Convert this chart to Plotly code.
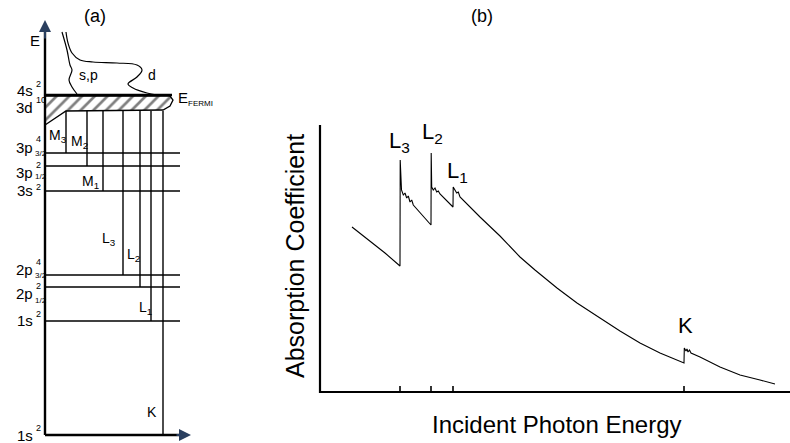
import plotly.graph_objects as go

FONT = "Liberation Sans, Arial, Helvetica, sans-serif"

# ---------------- (a) energy-level scheme (arbitrary units) ----------------
level_E = [11.4, 14.8, 16.0, 24.4, 26.9, 28.2]
level_xend = 13.5

# level labels: main text, superscript, subscript and their heights
lab_main = ["4s", "3d", "3p", "3p", "3s", "2p", "2p", "1s", "1s"]
lab_sup = ["2", "10", "4", "2", "2", "4", "2", "2", "2"]
lab_sub = ["", "", "3/2", "1/2", "", "3/2", "1/2", "", ""]
lab_main_E = [34.5, 32.8, 28.8, 26.3, 24.5, 16.6, 14.2, 11.5, 0.0]
lab_sup_E = [35.1, 33.5, 29.6, 27.05, 24.85, 17.3, 14.9, 12.1, 0.7]
lab_sub_E = [0, 0, 28.15, 25.9, 0, 15.95, 13.5, 0, 0]

ground_E = 0.0          # bottom 1s level (K shell)
fermi_E = 34.0          # E_FERMI / 4s^2
band_bottom_E = 32.4    # bottom of filled 3d band
axis_top_E = 41.5

# filled 3d band outline
band_x = [0.0, 12.5, 12.8, 12.5, 11.8, 2.1, 0.0, 0.0]
band_E = [33.9, 33.9, 33.5, 32.9, 32.5, 32.4, 31.0, 33.9]

# absorption edges: name, horizontal position, initial level energy
trans_names = ["M<sub>3</sub>", "M<sub>2</sub>", "M<sub>1</sub>", "L<sub>3</sub>",
               "L<sub>2</sub>", "L<sub>1</sub>", "K"]
trans_x = [2.1, 4.2, 5.8, 7.8, 9.5, 10.6, 11.8]
trans_from = [28.2, 26.9, 24.4, 16.0, 14.8, 11.4, 0.0]
trans_label_x = [0.2, 2.4, 3.5, 5.5, 8.0, 9.2, 10.0]
trans_label_E = [29.9, 29.3, 25.3, 19.6, 18.0, 12.7, 2.3]

# density of states curves above the Fermi level
sp_x = [1.7, 2.2, 2.5, 2.7, 2.4, 2.7, 3.2]
sp_E = [40.3, 38.5, 37.0, 36.5, 35.5, 34.8, 34.1]
d_x = [2.1, 2.3, 2.7, 3.5, 4.8, 7.2, 9.2, 9.7, 9.2, 8.3, 8.8, 10.2, 11.2]
d_E = [40.3, 39.2, 38.2, 37.5, 37.3, 37.2, 37.0, 36.5, 35.8, 35.1, 34.7, 34.2, 34.0]

# ---------------- (b) absorption spectrum (arbitrary units) ----------------
energy = [3.2, 5.0, 6.5, 8.0, 8.02, 8.15, 8.33, 8.5, 8.67, 8.83, 9.0, 9.17, 9.33,
          11.1, 11.12, 11.17, 11.33, 11.5, 11.67, 11.83, 12.0, 13.3, 13.32, 13.5,
          13.67, 13.83, 14.0, 16.0, 18.0, 20.0, 21.5, 23.7, 25.7, 28.0, 30.0, 32.0,
          34.0, 36.4, 36.43, 36.6, 36.7, 36.8, 36.95, 37.1, 38.0, 40.0, 42.0, 44.0, 45.5]
absorption = [16.5, 15.1, 13.9, 12.6, 23.2, 20.2, 19.7, 19.9, 19.4, 19.6, 19.0, 19.2, 18.7,
              16.7, 23.9, 20.5, 20.2, 20.4, 20.0, 20.1, 19.8, 18.5, 20.5, 20.2,
              19.9, 20.0, 19.5, 17.5, 15.6, 13.5, 12.2, 10.4, 8.9, 7.4, 6.1, 4.9,
              3.9, 2.9, 4.4, 4.1, 4.3, 4.0, 4.2, 3.9, 3.5, 2.5, 1.7, 1.2, 0.8]
edge_names = ["L<sub>3</sub>", "L<sub>2</sub>", "L<sub>1</sub>", "K"]
edge_energy = [8.0, 11.1, 13.3, 36.4]
edge_label_mu = [25.0, 25.9, 22.0, 6.7]
edge_label_dx = [-0.1, 0.15, 0.45, 0.15]
x_axis_end = 47.0
y_axis_top = 26.7

fig = go.Figure()

# ---- panel (a) ----
# filled band with hatching
fig.add_trace(go.Scatter(x=band_x, y=band_E, mode="lines", fill="toself",
                         fillcolor="white",
                         fillpattern=dict(shape="/", fgcolor="black", bgcolor="white",
                                          size=9, solidity=0.3),
                         line=dict(color="black", width=1.3), hoverinfo="skip",
                         xaxis="x", yaxis="y"))
# Fermi level
fig.add_trace(go.Scatter(x=[0, 12.7], y=[fermi_E, fermi_E], mode="lines",
                         line=dict(color="black", width=2.4), xaxis="x", yaxis="y"))
# core levels
for E in level_E:
    fig.add_trace(go.Scatter(x=[0, level_xend], y=[E, E], mode="lines",
                             line=dict(color="black", width=1.6), xaxis="x", yaxis="y"))
# transitions
for x, E in zip(trans_x, trans_from):
    fig.add_trace(go.Scatter(x=[x, x], y=[E, band_bottom_E], mode="lines",
                             line=dict(color="black", width=1.4), xaxis="x", yaxis="y"))
# density of states
fig.add_trace(go.Scatter(x=sp_x, y=sp_E, mode="lines", line=dict(color="black", width=1.2,
                         shape="spline"), xaxis="x", yaxis="y"))
fig.add_trace(go.Scatter(x=d_x, y=d_E, mode="lines", line=dict(color="black", width=1.2,
                         shape="spline"), xaxis="x", yaxis="y"))
# energy axis and bottom axis
fig.add_trace(go.Scatter(x=[0, 0], y=[ground_E, axis_top_E - 1], mode="lines",
                         line=dict(color="black", width=2.4), xaxis="x", yaxis="y"))
fig.add_trace(go.Scatter(x=[0, 13.5], y=[ground_E, ground_E], mode="lines",
                         line=dict(color="black", width=2.4), xaxis="x", yaxis="y"))

ann = []
# axis arrowheads
ann.append(dict(x=0, y=axis_top_E, ax=0, ay=axis_top_E - 2, xref="x", yref="y",
                axref="x", ayref="y", showarrow=True, arrowhead=2, arrowsize=1.2,
                arrowwidth=2, text=""))
ann.append(dict(x=14.6, y=ground_E, ax=13, ay=ground_E, xref="x", yref="y",
                axref="x", ayref="y", showarrow=True, arrowhead=2, arrowsize=1.2,
                arrowwidth=2, text=""))


def txt(x, y, s, size, xref="x", yref="y", xa="center", ya="middle", **kw):
    ann.append(dict(x=x, y=y, xref=xref, yref=yref, text=s, showarrow=False,
                    xanchor=xa, yanchor=ya, font=dict(family=FONT, size=size, color="black"),
                    **kw))


txt(-1.0, 39.5, "E", 15)
txt(4.3, 36.0, "s,p", 14)
txt(10.7, 36.0, "d", 14)
txt(13.1, 33.7, "E<sub><span style='font-size:8px'>FERMI</span></sub>", 15, xa="left")

for m, sp, sb, mE, pE, bE in zip(lab_main, lab_sup, lab_sub, lab_main_E, lab_sup_E, lab_sub_E):
    txt(-1.05, mE, m, 15, xa="right")
    txt(-1.05, pE, sp, 9, xa="left", borderpad=0)
    if sb:
        txt(-1.15, bE, sb, 8, xa="left", borderpad=0)

for n, x, E in zip(trans_names, trans_label_x, trans_label_E):
    txt(x, E, n, 14, xa="left")

txt(95 / 790, 1 - 16 / 443, "(a)", 18, xref="paper", yref="paper")
txt(482 / 790, 1 - 16 / 443, "(b)", 18, xref="paper", yref="paper")

# ---- panel (b) ----
fig.add_trace(go.Scatter(x=energy, y=absorption, mode="lines",
                         line=dict(color="black", width=1.1), xaxis="x2", yaxis="y2"))
fig.add_trace(go.Scatter(x=[0, 0, x_axis_end], y=[y_axis_top, 0, 0], mode="lines",
                         line=dict(color="black", width=2.2), xaxis="x2", yaxis="y2"))
for e in edge_energy:
    fig.add_trace(go.Scatter(x=[e, e], y=[0, 0.6], mode="lines",
                             line=dict(color="black", width=1.6), xaxis="x2", yaxis="y2"))
for n, e, m, dx in zip(edge_names, edge_energy, edge_label_mu, edge_label_dx):
    txt(e + dx, m, n, 22, xref="x2", yref="y2")

txt(557 / 790, 1 - 424 / 443, "Incident Photon Energy", 24, xref="paper", yref="paper")
txt(295 / 790, 1 - 256 / 443, "Absorption Coefficient", 25, xref="paper", yref="paper",
    textangle=-90)

fig.update_layout(
    width=790, height=443, margin=dict(l=0, r=0, t=0, b=0),
    paper_bgcolor="white", plot_bgcolor="white", showlegend=False,
    annotations=ann,
    xaxis=dict(domain=[0, 0.3], range=[-4.5, 19.2], visible=False),
    yaxis=dict(domain=[0, 1], range=[-0.8, 43.5], visible=False),
    xaxis2=dict(domain=[0.3, 1], range=[-8.3, 47.0], visible=False, anchor="y2"),
    yaxis2=dict(domain=[0, 1], range=[-5.1, 39.2], visible=False, anchor="x2"),
)

fig.write_html("out.html")
